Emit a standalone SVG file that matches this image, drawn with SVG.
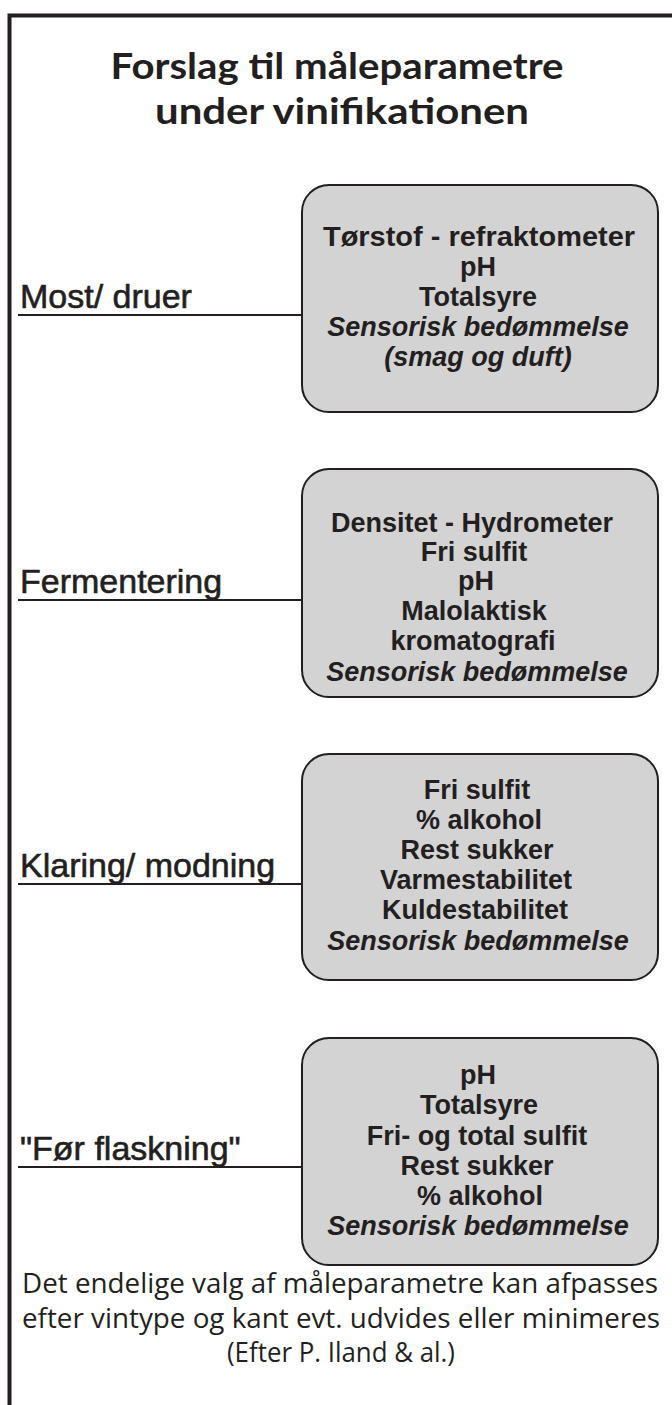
<svg xmlns="http://www.w3.org/2000/svg" width="672" height="1405" viewBox="0 0 672 1405">
<style>
.frame{fill:none;stroke:#231f20;stroke-width:4}
.box{fill:#d3d3d4;stroke:#231f20;stroke-width:2}
.conn{stroke:#231f20;stroke-width:2;fill:none}
.title{font-family:Lato,"Open Sans",sans-serif;font-weight:700;font-size:37px;fill:#231f20;text-anchor:middle}
.lbl{font-family:"Liberation Sans",Arial,sans-serif;font-size:34px;fill:#231f20;stroke:#231f20;stroke-width:0.6}
.bt{font-family:"Liberation Sans",Arial,sans-serif;font-weight:700;font-size:27px;fill:#231f20;text-anchor:middle}
.it{font-style:italic}
.foot{font-family:"Open Sans","Noto Sans",sans-serif;font-size:27px;fill:#231f20;text-anchor:middle}
</style>
<rect width="672" height="1405" fill="#ffffff"/>
<path class="frame" d="M9.5,1405 V15.5 H672"/>
<g id="title">
<text class="title" x="337" y="79" textLength="453" lengthAdjust="spacingAndGlyphs">Forslag til måleparametre</text>
<text class="title" x="342" y="124" textLength="374" lengthAdjust="spacingAndGlyphs">under vinifikationen</text>
</g>
<g id="connectors">
<line class="conn" x1="18" y1="315" x2="302" y2="315"/>
<line class="conn" x1="18" y1="600" x2="302" y2="600"/>
<line class="conn" x1="18" y1="884" x2="302" y2="884"/>
<line class="conn" x1="18" y1="1167" x2="302" y2="1167"/>
</g>
<g id="label-most"><text class="lbl" x="20" y="308">Most/ druer</text></g>
<g id="label-fermentering"><text class="lbl" x="20" y="593">Fermentering</text></g>
<g id="label-klaring"><text class="lbl" x="20" y="877">Klaring/ modning</text></g>
<g id="label-foer"><text class="lbl" x="20" y="1160">"Før flaskning"</text></g>
<g id="box1">
<rect class="box" x="302" y="185" width="356" height="227" rx="27" ry="27"/>
<text class="bt" x="479" y="246" textLength="312" lengthAdjust="spacingAndGlyphs">Tørstof - refraktometer</text>
<text class="bt" x="478" y="276">pH</text>
<text class="bt" x="478" y="306">Totalsyre</text>
<text class="bt it" x="478" y="336">Sensorisk bedømmelse</text>
<text class="bt it" x="478" y="366">(smag og duft)</text>
</g>
<g id="box2">
<rect class="box" x="302" y="469" width="356" height="228" rx="27" ry="27"/>
<text class="bt" x="472" y="532">Densitet - Hydrometer</text>
<text class="bt" x="474" y="561">Fri sulfit</text>
<text class="bt" x="476" y="590">pH</text>
<text class="bt" x="474" y="620">Malolaktisk</text>
<text class="bt" x="473" y="650">kromatografi</text>
<text class="bt it" x="477" y="681">Sensorisk bedømmelse</text>
</g>
<g id="box3">
<rect class="box" x="302" y="754" width="356" height="226" rx="27" ry="27"/>
<text class="bt" x="477" y="799">Fri sulfit</text>
<text class="bt" x="479" y="829">% alkohol</text>
<text class="bt" x="477" y="859">Rest sukker</text>
<text class="bt" x="476" y="889">Varmestabilitet</text>
<text class="bt" x="475" y="919">Kuldestabilitet</text>
<text class="bt it" x="478" y="950">Sensorisk bedømmelse</text>
</g>
<g id="box4">
<rect class="box" x="302" y="1038" width="356" height="227" rx="27" ry="27"/>
<text class="bt" x="478" y="1084">pH</text>
<text class="bt" x="479" y="1114">Totalsyre</text>
<text class="bt" x="477" y="1145">Fri- og total sulfit</text>
<text class="bt" x="477" y="1175">Rest sukker</text>
<text class="bt" x="480" y="1205">% alkohol</text>
<text class="bt it" x="478" y="1235">Sensorisk bedømmelse</text>
</g>
<g id="footer">
<text class="foot" x="340" y="1293" textLength="636" lengthAdjust="spacingAndGlyphs">Det endelige valg af måleparametre kan afpasses</text>
<text class="foot" x="341" y="1328" textLength="638" lengthAdjust="spacingAndGlyphs">efter vintype og kant evt. udvides eller minimeres</text>
<text class="foot" x="341" y="1362" textLength="228" lengthAdjust="spacingAndGlyphs">(Efter P. Iland &amp; al.)</text>
</g>
</svg>
